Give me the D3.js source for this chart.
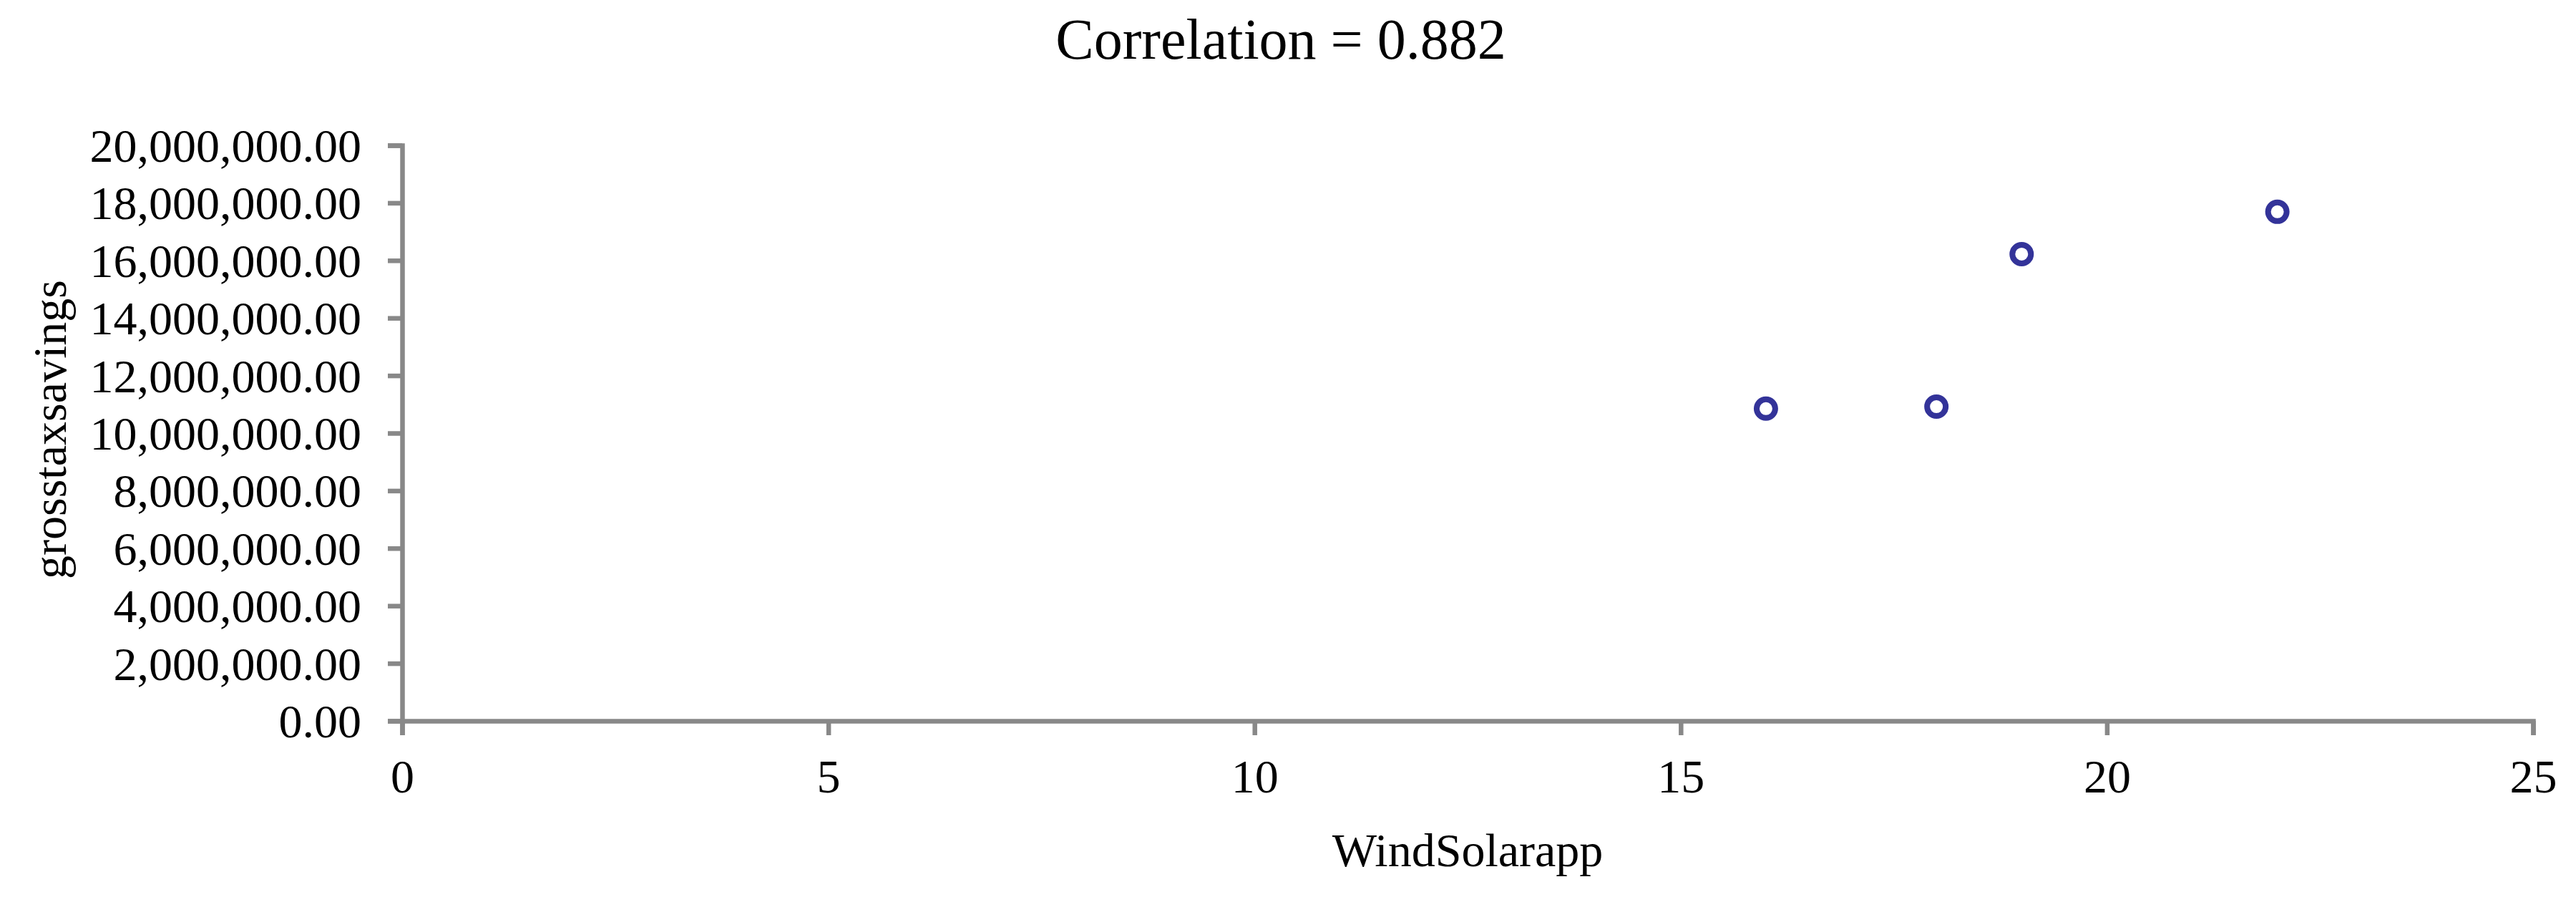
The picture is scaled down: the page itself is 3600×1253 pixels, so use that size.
<!DOCTYPE html>
<html>
<head>
<meta charset="utf-8">
<script src="https://cdn.jsdelivr.net/npm/d3@7"></script>
<style>
  body { margin: 0; background: #fff; }
  text { font-family: "Liberation Serif", "Times New Roman", serif; fill: #000; }
</style>
</head>
<body>
<script>
// data
const windSolarApp = [16, 18, 19, 22];
const grossTaxSavings = [10850000, 10920000, 16220000, 17690000];
const xTicks = [0, 5, 10, 15, 20, 25];
const yTicks = [0, 2e6, 4e6, 6e6, 8e6, 10e6, 12e6, 14e6, 16e6, 18e6, 20e6];
const titleText = "Correlation = 0.882";

const width = 3600;
const height = 1253;
const plot = { left: 562, right: 3540, top: 203, bottom: 1007 };

const svg = d3.select("body")
  .append("svg")
  .attr("width", width)
  .attr("height", height);

const x = d3.scaleLinear().domain([0, 25]).range([plot.left, plot.right]);
const y = d3.scaleLinear().domain([0, 20e6]).range([plot.bottom, plot.top]);

// y axis
const yAxis = svg.append("g")
  .attr("transform", `translate(${plot.left},0)`)
  .call(d3.axisLeft(y).tickValues(yTicks).tickSize(20).tickPadding(37)
    .tickFormat(d3.format(",.2f")));

// x axis
const xAxis = svg.append("g")
  .attr("transform", `translate(0,${plot.bottom})`)
  .call(d3.axisBottom(x).tickValues(xTicks).tickSize(20).tickPadding(0)
    .tickFormat(d3.format("d")));

[xAxis, yAxis].forEach((g) => {
  g.selectAll("path, line")
    .attr("stroke", "#888888")
    .attr("stroke-width", 6.5);
  g.selectAll("text")
    .style("font-size", "66px")
    .style("font-family", "'Liberation Serif', serif")
    .attr("fill", "#000");
});
yAxis.selectAll("text").attr("dy", "0.34em");
xAxis.selectAll("text").attr("dy", null).attr("y", 100);

// points
svg.append("g")
  .selectAll("circle")
  .data(windSolarApp)
  .join("circle")
  .attr("cx", (d) => x(d))
  .attr("cy", (d, i) => y(grossTaxSavings[i]))
  .attr("r", 13)
  .attr("fill", "none")
  .attr("stroke", "#333399")
  .attr("stroke-width", 8);

// title
svg.append("text")
  .attr("x", 1790)
  .attr("y", 82)
  .attr("text-anchor", "middle")
  .style("font-size", "80px")
  .text(titleText);

// axis titles
svg.append("text")
  .attr("x", (plot.left + plot.right) / 2)
  .attr("y", 1210)
  .attr("text-anchor", "middle")
  .style("font-size", "66px")
  .text("WindSolarapp");

svg.append("text")
  .attr("transform", "translate(92,600) rotate(-90)")
  .attr("text-anchor", "middle")
  .style("font-size", "66px")
  .text("grosstaxsavings");
</script>
</body>
</html>
